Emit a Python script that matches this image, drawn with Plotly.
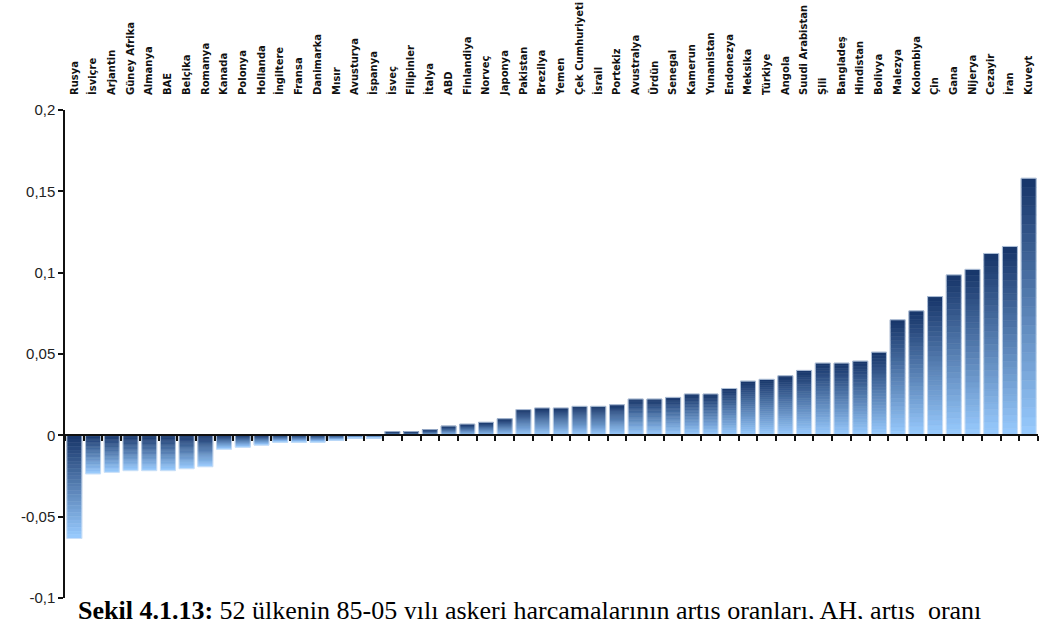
import plotly.graph_objects as go

# Ülkeler (artış oranına göre sıralı)
countries = [
    "Rusya", "İsviçre", "Arjantin", "Güney Afrika", "Almanya", "BAE", "Belçika",
    "Romanya", "Kanada", "Polonya", "Hollanda", "İngiltere", "Fransa", "Danimarka",
    "Mısır", "Avusturya", "İspanya", "İsveç", "Filipinler", "İtalya", "ABD",
    "Finlandiya", "Norveç", "Japonya", "Pakistan", "Brezilya", "Yemen",
    "Çek Cumhuriyeti", "İsrail", "Portekiz", "Avustralya", "Ürdün", "Senegal",
    "Kamerun", "Yunanistan", "Endonezya", "Meksika", "Türkiye", "Angola",
    "Suudi Arabistan", "Şili", "Bangladeş", "Hindistan", "Bolivya", "Malezya",
    "Kolombiya", "Çin", "Gana", "Nijerya", "Cezayir", "İran", "Kuveyt",
]

# 85-05 askeri harcama artış oranları (AH)
growth = [
    -0.0634, -0.0237, -0.0227, -0.0217, -0.0217, -0.0217, -0.0205, -0.0193,
    -0.0085, -0.0073, -0.0060, -0.0042, -0.0042, -0.0042, -0.0030, -0.0017,
    -0.0017, 0.0023, 0.0023, 0.0035, 0.0057, 0.0069, 0.0080, 0.0102, 0.0158,
    0.0168, 0.0168, 0.0178, 0.0178, 0.0188, 0.0223, 0.0223, 0.0233, 0.0254,
    0.0254, 0.0288, 0.0333, 0.0344, 0.0366, 0.0399, 0.0444, 0.0444, 0.0456,
    0.0511, 0.0710, 0.0765, 0.0853, 0.0986, 0.1020, 0.1118, 0.1161, 0.1580,
]

y_tickvals = [-0.1, -0.05, 0, 0.05, 0.1, 0.15, 0.2]
y_ticktext = ["-0,1", "-0,05", "0", "0,05", "0,1", "0,15", "0,2"]

caption = ("<b>Şekil 4.1.13:</b> 52 ülkenin 85-05 yılı askeri harcamalarının "
           "artış oranları, AH, artış&nbsp; oranı")

DARK = (22, 52, 104)
LIGHT = (153, 204, 255)
N_SLICES = 28


def blend(t):
    """t=1 -> dark navy, t=0 -> light blue."""
    r, g, b = (round(LIGHT[i] + (DARK[i] - LIGHT[i]) * t) for i in range(3))
    return f"rgb({r},{g},{b})"


fig = go.Figure()

# Each bar is built from stacked slices to get a vertical gradient
# (dark at the top, light at the bottom).
for k in range(N_SLICES):
    frac = (k + 0.5) / N_SLICES  # distance from zero, 0..1
    colors = [blend(frac) if v >= 0 else blend(1 - frac) for v in growth]
    fig.add_trace(go.Bar(
        x=countries,
        y=[v / N_SLICES for v in growth],
        marker=dict(color=colors, line=dict(color=colors, width=0.6)),
        hoverinfo="skip",
        showlegend=False,
        xaxis="x",
        yaxis="y",
    ))

# Thin pale outline for each bar, on the overlaid axis that carries the zero line
fig.add_trace(go.Bar(
    x=countries,
    y=growth,
    marker=dict(color="rgba(0,0,0,0)", line=dict(color="rgba(215,228,245,0.9)", width=0.8)),
    hovertemplate="%{x}: %{y}<extra></extra>",
    showlegend=False,
    xaxis="x2",
    yaxis="y",
))

fig.update_layout(
    width=1040,
    height=619,
    margin=dict(l=65, r=2, t=110, b=21),
    paper_bgcolor="white",
    plot_bgcolor="white",
    barmode="relative",
    bargap=0.2,
    showlegend=False,
    xaxis=dict(
        type="category",
        categoryorder="array",
        categoryarray=countries,
        side="top",
        tickangle=-90,
        ticks="",
        showline=False,
        showgrid=False,
        zeroline=False,
        ticklabelstandoff=14,
        tickfont=dict(family="DejaVu Sans", size=10, color="#111111", weight="bold"),
    ),
    xaxis2=dict(
        type="category",
        categoryorder="array",
        categoryarray=countries,
        overlaying="x",
        matches="x",
        anchor="free",
        position=1 / 3,
        showline=True,
        linecolor="#111111",
        linewidth=1.5,
        ticks="outside",
        tickson="boundaries",
        ticklen=5,
        tickwidth=1.5,
        tickcolor="#111111",
        showticklabels=False,
        showgrid=False,
        zeroline=False,
    ),
    yaxis=dict(
        range=[-0.1, 0.2],
        tickvals=y_tickvals,
        ticktext=y_ticktext,
        showline=True,
        linecolor="#111111",
        linewidth=1.5,
        ticks="outside",
        ticklen=5,
        tickwidth=1.5,
        tickcolor="#111111",
        showgrid=False,
        zeroline=False,
        tickfont=dict(family="Liberation Sans, Arial", size=15, color="#222222"),
    ),
    annotations=[dict(
        text=caption,
        xref="paper", yref="paper",
        x=0.011, y=0,
        xanchor="left", yanchor="top",
        yshift=4,
        showarrow=False,
        font=dict(family="Liberation Serif, Times New Roman", size=26, color="#000000"),
    )],
)

fig.write_html("out.html")
